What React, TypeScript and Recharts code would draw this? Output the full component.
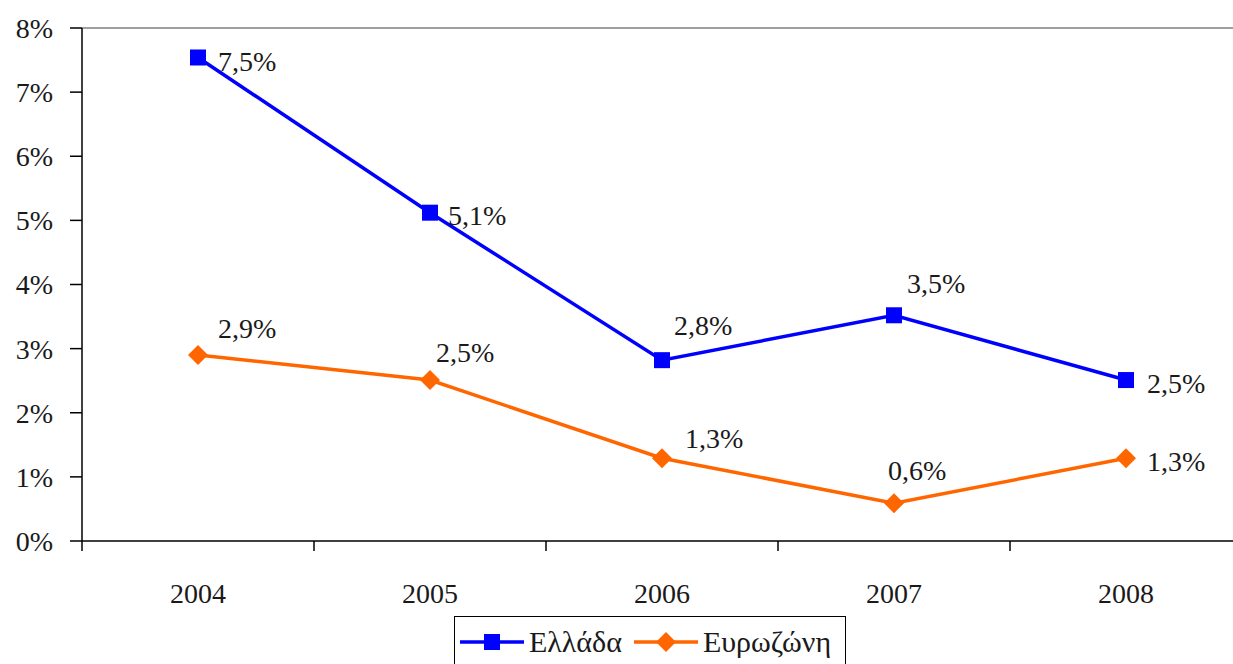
import { LineChart, Line, XAxis, YAxis, Legend, LabelList, ReferenceLine } from 'recharts'

const years = ['2004', '2005', '2006', '2007', '2008']
const greece = [7.54, 5.12, 2.82, 3.52, 2.51]
const eurozone = [2.9, 2.51, 1.29, 0.59, 1.29]
const yTicks = [0, 1, 2, 3, 4, 5, 6, 7, 8]

// label offsets from the marker centre, one per point
const greeceLabelOffset = [[20, 4], [18, 2], [12, -35], [13, -32], [21, 3]]
const euroLabelOffset = [[20, -27], [6, -28], [23, -20], [-6, -33], [21, 3]]

const BLUE = '#0000ff'
const ORANGE = '#ff6600'
const FONT = '"Liberation Serif", "Times New Roman", serif'
const TEXT = '#1a1a1a'

const data = years.map((year, i) => ({ pos: i + 0.5, year, greece: greece[i], eurozone: eurozone[i] }))
const xTicks = [...years.map((_, i) => i), years.length, ...years.map((_, i) => i + 0.5)].sort((a, b) => a - b)

function pct(v: number): string {
  return v.toFixed(1).replace('.', ',') + '%'
}

function XTick(props: any) {
  const { x, y, payload } = props
  const v = payload.value as number
  if (Number.isInteger(v)) {
    return <line x1={x} x2={x} y1={y} y2={y + 10} stroke="#000" strokeWidth={1.5} />
  }
  return (
    <text x={x} y={y + 52} dy="0.355em" textAnchor="middle" fontSize={28} fontFamily={FONT} fill={TEXT}>
      {years[Math.floor(v)]}
    </text>
  )
}

function makeLabel(offsets: number[][]) {
  return (p: any) => {
    const [dx, dy] = offsets[p.index] ?? [15, 0]
    return (
      <text key={p.index} x={p.x + dx} y={p.y + dy} dy="0.355em" fontSize={28} fontFamily={FONT} fill={TEXT}>
        {pct(Number(p.value))}
      </text>
    )
  }
}

function SquareDot(p: any) {
  return <rect key={p.index} x={p.cx - 8} y={p.cy - 8} width={16} height={16} fill={BLUE} />
}

function DiamondDot(p: any) {
  const { cx, cy } = p
  return <polygon key={p.index} points={`${cx},${cy - 10} ${cx + 10},${cy} ${cx},${cy + 10} ${cx - 10},${cy}`} fill={ORANGE} />
}

function LegendIcon({ color, square }: { color: string; square: boolean }) {
  return (
    <svg width={64} height={24} style={{ display: 'block' }}>
      <line x1={0} x2={64} y1={12} y2={12} stroke={color} strokeWidth={3.5} />
      {square ? (
        <rect x={24} y={4} width={16} height={16} fill={color} />
      ) : (
        <polygon points="32,2 42,12 32,22 22,12" fill={color} />
      )}
    </svg>
  )
}

function LegendBox() {
  const items = [
    { name: 'Ελλάδα', color: BLUE, square: true },
    { name: 'Ευρωζώνη', color: ORANGE, square: false },
  ]
  return (
    <div style={{ display: 'flex', justifyContent: 'center' }}>
      <div
        style={{
          display: 'flex',
          alignItems: 'center',
          boxSizing: 'border-box',
          height: 56,
          padding: '0 14px 4px 5px',
          border: '1.5px solid #000',
          fontFamily: FONT,
          fontSize: 30,
          color: TEXT,
        }}
      >
        {items.map((it, i) => (
          <div key={it.name} style={{ display: 'flex', alignItems: 'center', marginLeft: i ? 12 : 0 }}>
            <LegendIcon color={it.color} square={it.square} />
            <span style={{ marginLeft: 5 }}>{it.name}</span>
          </div>
        ))}
      </div>
    </div>
  )
}

export default function App() {
  return (
    <div style={{ position: 'absolute', left: 0, top: 0, width: 1233, height: 664, overflow: 'hidden', background: '#fff' }}>
      <LineChart width={1300} height={680} data={data} margin={{ top: 28, right: 58, left: 0, bottom: 8 }}>
        <XAxis
          dataKey="pos"
          type="number"
          domain={[0, years.length]}
          ticks={xTicks}
          interval={0}
          tick={<XTick />}
          tickLine={false}
          tickSize={0}
          tickMargin={0}
          axisLine={{ stroke: '#000', strokeWidth: 1.5 }}
          height={75}
        />
        <YAxis
          domain={[0, 8]}
          ticks={yTicks}
          interval={0}
          width={82}
          tickSize={12}
          tickMargin={17}
          tickFormatter={(v: number) => `${v}%`}
          tick={{ fontSize: 28, fontFamily: FONT, fill: TEXT }}
          axisLine={{ stroke: '#000', strokeWidth: 1.5 }}
          tickLine={{ stroke: '#000', strokeWidth: 1.5 }}
        />
        <ReferenceLine y={8} stroke="#a0a0a0" strokeWidth={2} />
        <Legend verticalAlign="bottom" content={<LegendBox />} wrapperStyle={{ left: 0, width: 1300 }} />
        <Line
          dataKey="greece"
          name="Ελλάδα"
          type="linear"
          stroke={BLUE}
          strokeWidth={3.5}
          dot={SquareDot}
          activeDot={false}
          isAnimationActive={false}
        >
          <LabelList dataKey="greece" content={makeLabel(greeceLabelOffset)} />
        </Line>
        <Line
          dataKey="eurozone"
          name="Ευρωζώνη"
          type="linear"
          stroke={ORANGE}
          strokeWidth={3.5}
          dot={DiamondDot}
          activeDot={false}
          isAnimationActive={false}
        >
          <LabelList dataKey="eurozone" content={makeLabel(euroLabelOffset)} />
        </Line>
      </LineChart>
    </div>
  )
}
